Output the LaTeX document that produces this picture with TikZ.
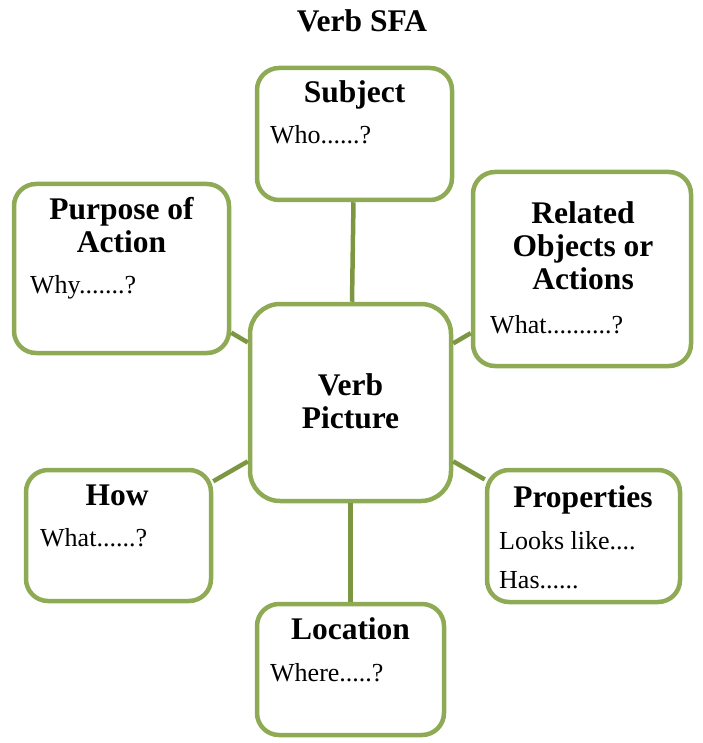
\documentclass[tikz,border=0pt]{standalone}
\usepackage{fontspec}
\setmainfont{Liberation Serif}
\usetikzlibrary{positioning}
\definecolor{boxgreen}{RGB}{142,170,84}
\definecolor{linkgreen}{RGB}{124,150,66}
\newcommand{\headfont}{\fontsize{31.5}{33}\selectfont\bfseries}
\newcommand{\askfont}{\fontsize{26}{39}\selectfont}

\begin{document}
\begin{tikzpicture}[x=1pt,y=-1pt]
  \useasboundingbox (0,0) rectangle (702,743);
  \node[anchor=base,font=\headfont] (title) at (362,32) {Verb SFA};
  % boxes
  \begin{scope}[every node/.style={draw=boxgreen,line width=4.5pt,fill=white,rounded corners=22pt,inner sep=0pt}]
    \node[minimum width=195pt,minimum height=132pt] (subj) at (354.5,134) {};
    \node[minimum width=215pt,minimum height=169pt] (purp) at (121.5,268.5) {};
    \node[minimum width=218pt,minimum height=194pt] (rel) at (582,269) {};
    \node[minimum width=201pt,minimum height=197pt,rounded corners=30pt] (verb) at (350.5,402.5) {};
    \node[minimum width=185pt,minimum height=131pt] (how) at (118.5,535.5) {};
    \node[minimum width=193pt,minimum height=132pt] (prop) at (583.5,536) {};
    \node[minimum width=187pt,minimum height=131pt] (loc) at (350.5,669.5) {};
  \end{scope}
  % links
  \begin{scope}[every edge/.style={draw=linkgreen,line width=4.5pt}]
    \path (verb) edge (subj);
    \path (verb) edge (purp);
    \path (verb) edge (rel);
    \path (verb) edge (how);
    \path (verb) edge (prop);
    \path (verb) edge (loc);
  \end{scope}
  % headings (base = last line)
  \begin{scope}[every node/.style={anchor=base,font=\headfont,align=center,inner sep=0pt}]
    \node (subjhead) at (354.5,103) {Subject};
    \node (purphead) at (121.5,252) {Purpose of\\Action};
    \node (relhead) at (583,289) {Related\\Objects or\\Actions};
    \node (verbhead) at (350.5,428) {Verb\\Picture};
    \node (howhead) at (117,505) {How};
    \node (prophead) at (583,507) {Properties};
    \node (lochead) at (350.5,639) {Location};
  \end{scope}
  % questions
  \begin{scope}[every node/.style={anchor=base west,font=\askfont,align=left,inner sep=0pt}]
    \node (subjask) at (270,144) {Who......?};
    \node (purpask) at (30,293) {Why.......?};
    \node (relask) at (490,333) {What..........?};
    \node (howask) at (40,546) {What......?};
    \node (propask) at (499,588) {Looks like....\\Has......};
    \node (locask) at (270,681) {Where.....?};
  \end{scope}
\end{tikzpicture}
\end{document}
